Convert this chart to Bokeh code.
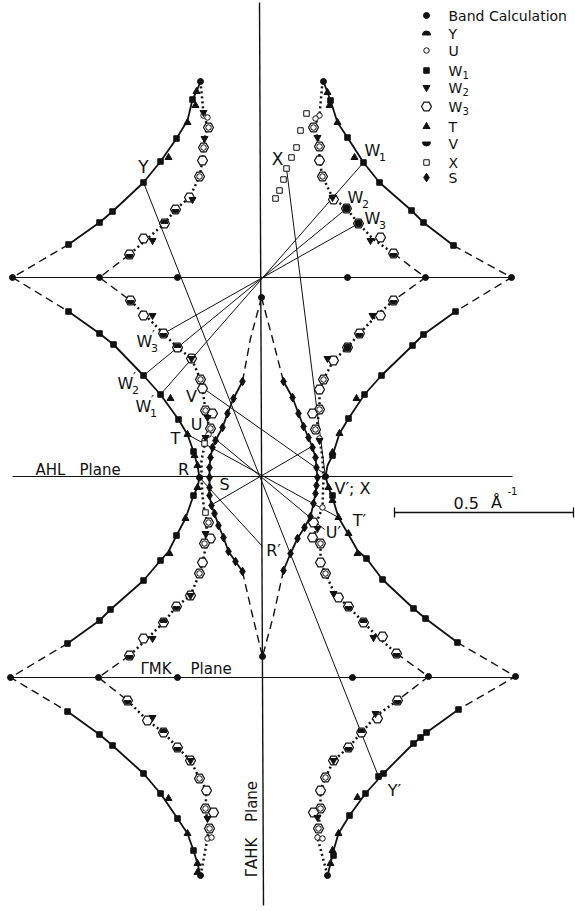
from math import pi

from bokeh.core.properties import value
from bokeh.embed import file_html
from bokeh.models import Range1d
from bokeh.plotting import figure
from bokeh.resources import INLINE

W, H = 575, 911
INK = "#111111"
FONT = "DejaVu Sans"

# ---------------------------------------------------------------------------
# Drawing frame: x to the right, y downward; 179 units = 0.5 1/Angstrom.
# ---------------------------------------------------------------------------

# Symmetry planes (y level, x start, x end)
plane_y = [277, 476, 677]
plane_x0 = [12, 12, 10]
plane_x1 = [511, 512, 515]
gahk_line = [(259, 2), (263, 905)]

# Band calculation points (cusps, plane intersections)
band_pts = [(200, 81), (323, 81), (12, 277), (99, 277), (177, 277), (347, 277),
            (425, 277), (511, 277), (261, 297), (199, 477), (325, 476),
            (262, 656), (10, 677), (98, 677), (177, 677), (352, 677),
            (428, 676), (515, 676), (200, 875), (327, 875)]

# Outer sheet (W1 / T orbits), solid portions of each branch
outer_tip = {"ul": (12, 277), "ur": (511, 277), "ll": (10, 677), "lr": (515, 676)}
outer_l = [
    [(200, 81), (196, 91), (192, 99), (187, 120), (176, 138), (160, 161), (143, 182),
     (112, 211), (99, 222), (68, 244)],
    [(68, 311), (99, 333), (113, 344), (143, 375), (160, 394), (178, 419), (187, 434),
     (193, 451), (197, 465), (199, 477)],
    [(199, 477), (197, 487), (193, 495), (185, 518), (176, 535), (168, 551), (160, 560),
     (143, 580), (110, 609), (99, 620), (67, 643)],
    [(67, 711), (99, 734), (112, 745), (143, 773), (160, 793), (177, 818), (187, 833),
     (193, 850), (197, 863), (200, 875)],
]
outer_r = [
    [(323, 81), (327, 92), (330, 100), (337, 122), (347, 137), (363, 162), (379, 182),
     (411, 210), (423, 222), (453, 245)],
    [(455, 311), (423, 334), (412, 345), (381, 375), (364, 394), (348, 418), (339, 433),
     (332, 455), (327, 465), (325, 476)],
    [(325, 476), (328, 487), (332, 497), (338, 517), (348, 534), (357, 550), (366, 558),
     (382, 579), (413, 608), (425, 618), (457, 642)],
    [(458, 709), (426, 732), (413, 743), (383, 773), (365, 793), (349, 815), (338, 833),
     (333, 850), (330, 863), (327, 875)],
]

# Inner sheet (W2 / W3 / U / V orbits), dotted portions of each branch
inner_tip = {"ul": (99, 277), "ur": (425, 277), "ll": (98, 677), "lr": (428, 676)}
inner_l = [
    [(200, 81), (203, 113), (207, 126), (204, 138), (203, 147), (202, 160), (199, 176),
     (189, 197), (175, 209), (164, 223), (147, 238), (129, 254)],
    [(130, 300), (145, 315), (163, 333), (177, 347), (191, 358), (200, 379), (202, 388),
     (205, 410), (209, 428), (205, 440), (201, 460), (201, 477)],
    [(201, 477), (202, 495), (204, 512), (207, 522), (205, 533), (206, 543), (202, 562),
     (199, 573), (190, 595), (176, 606), (163, 622), (147, 638), (129, 655)],
    [(127, 700), (147, 720), (163, 732), (177, 747), (190, 760), (199, 778), (206, 790),
     (205, 808), (208, 828), (207, 838), (200, 875)],
]
inner_r = [
    [(322, 81), (319, 115), (313, 127), (317, 137), (319, 146), (319, 160), (322, 176),
     (332, 197), (346, 208), (358, 223), (372, 238), (393, 253)],
    [(393, 300), (376, 315), (359, 333), (347, 347), (333, 360), (323, 379), (319, 389),
     (319, 409), (316, 429), (319, 438), (322, 457), (323, 477)],
    [(323, 477), (322, 507), (316, 522), (314, 537), (320, 543), (320, 562), (325, 573),
     (335, 595), (348, 606), (363, 622), (378, 637), (396, 653)],
    [(397, 700), (376, 715), (361, 732), (348, 747), (333, 760), (325, 777), (320, 790),
     (320, 808), (318, 828), (317, 837), (327, 875)],
]

# Central S sheet: cusps and solid diamond branches
s_cusp_top, s_cusp_bot = (261, 297), (262, 656)
s_left = [(242, 381), (233, 398), (227, 413), (222, 427), (215, 440), (212, 447),
          (210, 457), (209, 467), (209, 477), (209, 487), (209, 495), (211, 505),
          (214, 513), (218, 525), (223, 537), (228, 551), (235, 561), (242, 571)]
s_right = [(283, 381), (292, 397), (298, 413), (303, 426), (308, 437), (312, 447),
           (315, 457), (316, 467), (317, 477), (316, 485), (315, 493), (313, 503),
           (310, 516), (304, 527), (297, 538), (290, 553), (283, 570)]
s_dash_mid = [(250, 338), (272, 338), (252, 615), (273, 615)]

# Orbit data points
w1_pts = [(192, 99), (176, 138), (160, 161), (143, 182), (112, 211), (99, 222), (68, 244),
          (68, 311), (99, 333), (113, 344), (143, 375), (160, 394), (178, 419), (193, 451),
          (193, 495), (176, 535), (160, 560), (143, 580), (110, 609), (99, 620), (67, 643),
          (67, 711), (99, 734), (112, 745), (143, 773), (160, 793), (177, 818), (193, 850),
          (330, 100), (347, 137), (363, 162), (379, 182), (411, 210), (423, 222), (453, 245),
          (455, 311), (423, 334), (412, 345), (381, 375), (364, 394), (348, 418), (332, 455),
          (332, 495), (366, 558), (382, 579), (413, 608), (425, 618), (457, 642),
          (458, 709), (426, 732), (420, 737), (413, 743), (383, 773), (378, 776),
          (365, 793), (349, 815), (333, 855)]
t_pts = [(196, 91), (195, 105), (187, 122), (168, 157), (170, 398), (187, 434), (194, 455),
         (197, 465), (197, 487), (185, 518), (169, 553), (168, 798), (187, 833), (197, 863),
         (197, 872), (327, 92), (329, 105), (337, 122), (354, 157), (356, 398), (339, 433),
         (332, 452), (328, 487), (332, 500), (338, 517), (348, 533), (357, 553),
         (357, 797), (338, 833), (332, 850), (330, 863)]
w3_pts = [(208, 127), (203, 147), (202, 160), (199, 176), (189, 197), (175, 209), (164, 223),
          (143, 238), (129, 254), (130, 300), (143, 315), (163, 333), (177, 347), (191, 358),
          (200, 379), (202, 388), (205, 410), (212, 413), (210, 428), (208, 522), (210, 538),
          (204, 543), (202, 562), (199, 573), (190, 595), (176, 606), (163, 622), (143, 638),
          (129, 655), (127, 700), (147, 720), (163, 732), (177, 747), (190, 760), (199, 778),
          (206, 790), (205, 808), (213, 812), (209, 828),
          (313, 127), (319, 146), (319, 160), (322, 176), (333, 199), (346, 208), (358, 223),
          (380, 237), (393, 253), (393, 300), (380, 315), (359, 333), (347, 347), (333, 360),
          (323, 379), (319, 389), (319, 409), (312, 413), (315, 429), (313, 522), (312, 537),
          (320, 543), (320, 562), (325, 573), (338, 597), (348, 606), (363, 622), (382, 636),
          (396, 653), (397, 700), (377, 718), (361, 732), (348, 747), (333, 760), (325, 777),
          (320, 790), (320, 808), (313, 812), (318, 828)]
u_pts = [(203, 115), (207, 117), (208, 127), (203, 147), (199, 176), (200, 379), (205, 410),
         (210, 428), (208, 434), (204, 440), (208, 522), (204, 543), (199, 573), (199, 778),
         (205, 808), (209, 828), (207, 838), (211, 837), (319, 115), (315, 118), (313, 127),
         (319, 146), (322, 176), (323, 379), (319, 409), (315, 429), (319, 438), (322, 507),
         (320, 543), (325, 573), (325, 777), (320, 808), (318, 828), (317, 837), (322, 838)]
w2_pts = [(203, 112), (204, 138), (192, 199), (152, 240), (152, 315), (191, 358), (207, 417),
          (205, 437), (205, 533), (190, 595), (152, 638), (152, 717), (190, 760), (207, 818),
          (317, 137), (332, 197), (370, 240), (372, 315), (327, 358), (319, 440), (317, 528),
          (333, 593), (373, 637), (375, 713), (333, 760), (317, 817)]
v_pts = [(175, 209), (129, 254), (130, 300), (163, 333), (176, 606), (129, 655), (127, 700),
         (177, 747), (346, 208), (358, 223), (393, 253), (393, 300), (359, 333), (347, 347),
         (348, 606), (396, 653), (397, 700), (348, 747)]
y_pts = [(164, 223), (177, 347), (163, 622), (163, 732), (346, 208), (358, 223), (347, 347),
         (363, 622), (361, 732)]
x_pts = [(306, 113), (300, 130), (296, 147), (291, 157), (286, 168), (283, 179), (279, 190),
         (275, 198), (204, 443), (205, 512)]

# Chords joining equivalent orbit points
chords = [((363, 162), (160, 394)),   # W1 - W1'
          ((346, 208), (143, 375)),   # W2 - W2'
          ((358, 223), (163, 333)),   # W3 - W3'
          ((143, 182), (378, 776)),   # Y - Y'
          ((286, 168), (325, 477)),   # X
          ((203, 388), (322, 472)),   # V - V'
          ((187, 434), (338, 517)),   # T - T'
          ((212, 436), (324, 529)),   # U - U'
          ((210, 505), (313, 445)),   # S
          ((199, 477), (262, 546))]   # R - R'

# Legend entries
legend_names = ["Band Calculation", "Y", "U", "W1", "W2", "W3", "T", "V", "X", "S"]


def xs(pts):
    return [q[0] for q in pts]


def ys(pts):
    return [q[1] for q in pts]


p = figure(width=W, height=H, x_range=Range1d(0, W), y_range=Range1d(H, 0),
           output_backend="svg", toolbar_location=None, min_border=0,
           x_axis_location=None, y_axis_location=None)
p.xgrid.visible = False
p.ygrid.visible = False
p.outline_line_color = None
p.background_fill_color = "white"
p.border_fill_color = "white"

# planes and the vertical Gamma-A-H-K trace
for yy, a, b in zip(plane_y, plane_x0, plane_x1):
    p.line([a, b], [yy, yy], line_color=INK, line_width=1.2)
p.line(xs(gahk_line), ys(gahk_line), line_color=INK, line_width=1.4)

# chords
p.multi_line([[a[0], b[0]] for a, b in chords], [[a[1], b[1]] for a, b in chords],
             line_color=INK, line_width=1.0)

# outer sheet: solid branches, dashed near the zone-edge tips
for path in outer_l + outer_r:
    p.line(xs(path), ys(path), line_color=INK, line_width=1.8)
odash = [[outer_l[0][-1], outer_tip["ul"], outer_l[1][0]],
         [outer_l[2][-1], outer_tip["ll"], outer_l[3][0]],
         [outer_r[0][-1], outer_tip["ur"], outer_r[1][0]],
         [outer_r[2][-1], outer_tip["lr"], outer_r[3][0]]]
p.multi_line([xs(s) for s in odash], [ys(s) for s in odash], line_color=INK,
             line_width=1.4, line_dash="8 5")

# inner sheet: dotted branches, dashed near the tips
for path in inner_l + inner_r:
    p.line(xs(path), ys(path), line_color=INK, line_width=2.5, line_dash="2 3")
idash = [[inner_l[0][-1], inner_tip["ul"], inner_l[1][0]],
         [inner_l[2][-1], inner_tip["ll"], inner_l[3][0]],
         [inner_r[0][-1], inner_tip["ur"], inner_r[1][0]],
         [inner_r[2][-1], inner_tip["lr"], inner_r[3][0]]]
p.multi_line([xs(s) for s in idash], [ys(s) for s in idash], line_color=INK,
             line_width=1.4, line_dash="8 5")

# central S sheet
for path in (s_left, s_right):
    p.line(xs(path), ys(path), line_color=INK, line_width=1.8)
sdash = [[s_cusp_top, s_dash_mid[0], s_left[0]],
         [s_cusp_top, s_dash_mid[1], s_right[0]],
         [s_left[-1], s_dash_mid[2], s_cusp_bot],
         [s_right[-1], s_dash_mid[3], s_cusp_bot]]
p.multi_line([xs(s) for s in sdash], [ys(s) for s in sdash], line_color=INK,
             line_width=1.4, line_dash="8 5")

# markers
p.scatter(xs(w3_pts), ys(w3_pts), marker="hex", size=10, line_color=INK,
          fill_color="white", line_width=1.2)
p.scatter(xs(u_pts), ys(u_pts), marker="circle", size=5.5, line_color=INK,
          fill_color="white", line_width=1.0)
p.wedge(xs(v_pts), ys(v_pts), radius=3.4, radius_units="screen", start_angle=pi,
        end_angle=2 * pi, color=INK)
p.wedge(xs(y_pts), ys(y_pts), radius=3.4, radius_units="screen", start_angle=0,
        end_angle=pi, color=INK)
p.scatter(xs(w2_pts), ys(w2_pts), marker="inverted_triangle", size=7, color=INK)
p.scatter(xs(x_pts), ys(x_pts), marker="square", size=5.5, line_color=INK,
          fill_color="white", line_width=1.0)
p.scatter(xs(s_left + s_right), ys(s_left + s_right), marker="diamond", size=8.5,
          color=INK)
p.scatter(xs(w1_pts), ys(w1_pts), marker="square", size=5.5, color=INK)
p.scatter(xs(t_pts), ys(t_pts), marker="triangle", size=7, color=INK)
p.scatter(xs(band_pts), ys(band_pts), marker="circle", size=6, color=INK)


def label(x, y, s, size=15, align="center", angle=0.0):
    p.text(x=[x], y=[y], text=[s], text_font=value(FONT),
           text_font_size=value(f"{size}px"), text_align=align,
           text_baseline="middle", angle=angle, text_color=INK)


def wlabel(x, y, sub, prime=False):
    label(x, y, "W", 16)
    label(x + 10, y + 6, sub, 11)
    if prime:
        label(x + 9, y - 7, "\u2032", 13)


# orbit labels
label(143, 166, "Y", 17)
label(277, 158, "X", 17)
label(191, 396, "V", 16)
label(196, 424, "U", 16)
label(175, 438, "T", 16)
label(183, 469, "R", 16)
label(224, 484, "S", 16)
label(273, 550, "R\u2032", 16)
label(352, 488, "V\u2032; X", 16)
label(359, 520, "T\u2032", 16)
label(333, 532, "U\u2032", 16)
label(394, 790, "Y\u2032", 16)
wlabel(372, 150, "1")
wlabel(355, 197, "2")
wlabel(372, 218, "3")
wlabel(144, 341, "3", prime=True)
wlabel(125, 383, "2", prime=True)
wlabel(143, 406, "1", prime=True)

# plane names
label(35, 469, "AHL", 15, "left")
label(79, 469, "Plane", 15, "left")
label(140, 668, "\u0393MK", 15, "left")
label(190, 668, "Plane", 15, "left")
label(251, 857, "\u0393AHK", 15, "center", pi / 2)
label(251, 801, "Plane", 15, "center", pi / 2)

# scale bar
p.line([394, 573], [512, 512], line_color=INK, line_width=1.3)
p.multi_line([[394, 394], [573, 573]], [[507, 517], [507, 517]], line_color=INK,
             line_width=1.3)
label(453, 502, "0.5", 16, "left")
label(496, 502, "\u00c5", 16)
label(512, 490, "-1", 10)

# legend
leg_y = [15, 33, 50, 70, 87, 106, 126, 143, 162, 177]
mx, tx = 426, 448
p.scatter([mx], [leg_y[0]], marker="circle", size=6, color=INK)
p.wedge([mx], [leg_y[1] + 1.5], radius=4, radius_units="screen", start_angle=0,
        end_angle=pi, color=INK)
p.scatter([mx], [leg_y[2]], marker="circle", size=5.5, line_color=INK,
          fill_color="white")
p.scatter([mx], [leg_y[3]], marker="square", size=5.5, color=INK)
p.scatter([mx], [leg_y[4]], marker="inverted_triangle", size=7, color=INK)
p.scatter([mx], [leg_y[5]], marker="hex", size=10, line_color=INK, fill_color="white",
          line_width=1.2)
p.scatter([mx], [leg_y[6]], marker="triangle", size=7, color=INK)
p.wedge([mx], [leg_y[7] - 1.5], radius=4, radius_units="screen", start_angle=pi,
        end_angle=2 * pi, color=INK)
p.scatter([mx], [leg_y[8]], marker="square", size=5.5, line_color=INK,
          fill_color="white")
p.scatter([mx], [leg_y[9]], marker="diamond", size=8.5, color=INK)
for name, yy in zip(legend_names, leg_y):
    if name.startswith("W"):
        label(tx, yy, "W", 14, "left")
        label(tx + 14, yy + 4, name[1], 10, "left")
    else:
        label(tx, yy, name, 14, "left")

open("out.html", "w").write(file_html(p, INLINE))
